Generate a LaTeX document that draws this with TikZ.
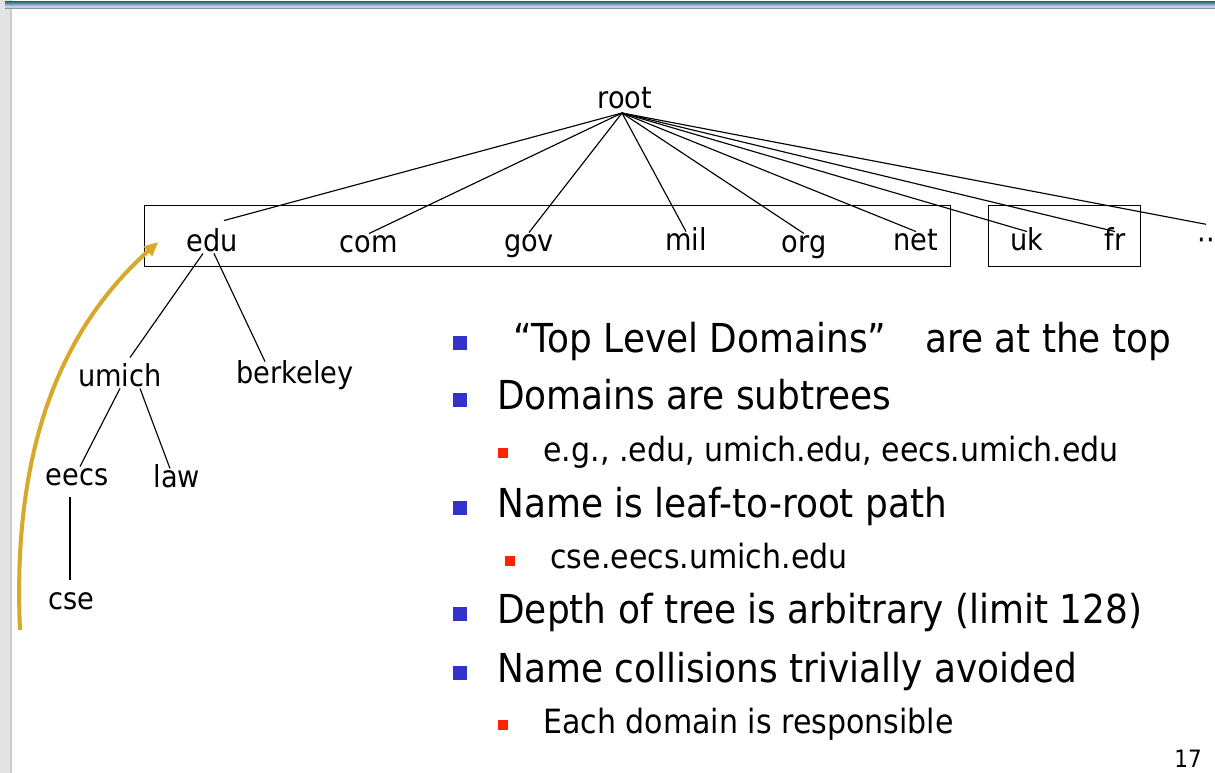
\documentclass[tikz,border=0pt]{standalone}
\usepackage{fontspec}
\setmainfont{DejaVu Sans}[FakeStretch=0.9]
\usetikzlibrary{arrows.meta,calc}
\definecolor{bulletblue}{RGB}{51,51,204}
\definecolor{bulletred}{RGB}{255,34,0}
\definecolor{pathgold}{RGB}{216,168,42}
\definecolor{barteal}{RGB}{60,120,118}
\definecolor{barlilac}{RGB}{200,200,245}
\tikzset{
  domlabel/.style={font=\fontsize{17.2}{19}\selectfont, inner sep=1pt,
    text height=0.75em, text depth=0.2em},
  treeline/.style={line width=0.65pt},
  mainitem/.style={anchor=west, inner sep=0pt, font=\fontsize{22.7}{26}\selectfont,
    text height=0.75em, text depth=0.22em},
  subitem/.style={anchor=west, inner sep=0pt, font=\fontsize{19}{22}\selectfont,
    text height=0.75em, text depth=0.22em},
  bigbullet/.style={fill=bulletblue, minimum size=7.9pt, inner sep=0pt},
  smallbullet/.style={fill=bulletred, minimum size=5.7pt, inner sep=0pt},
  patharrow/.style={-{Triangle[length=8pt,width=7pt]}, line width=2.3pt, pathgold}
}

\begin{document}
\begin{tikzpicture}[x=0.02cm, y=-0.02cm]
    \useasboundingbox (0,0) rectangle (1215,773);
    % slide frame
    \fill[gray!22] (0,0) rectangle (12,773);
    \fill[gray!40] (10,0) rectangle (12,773);
    \shade[top color=barteal, bottom color=barlilac] (5,2) rectangle (1215,6);
    \fill[barlilac] (5,6) rectangle (1215,8.5);
    \draw[barteal!70, line width=0.5pt] (5,8.5) -- (1215,8.5);

    % top level
    \node[domlabel] (root) at (625,104) {root};
    \coordinate (fork) at (622,113);
    \node[domlabel] (edu) at (212,247) {edu};
    \node[domlabel] (com) at (369,248) {com};
    \node[domlabel] (gov) at (529,247) {gov};
    \node[domlabel] (mil) at (686,246) {mil};
    \node[domlabel] (org) at (804,248) {org};
    \node[domlabel] (net) at (916,246) {net};
    \node[domlabel] (uk) at (1027,246) {uk};
    \node[domlabel] (fr) at (1115,246) {fr};
    \node[domlabel, anchor=west, inner sep=0pt] (more) at (1197,246) {··};
    \draw (144,205) rectangle (950,266);
    \draw (988,205) rectangle (1140,266);
    \draw[treeline] (fork) -- ([shift={(12,-16)}]edu.north);
    \foreach \tld in {com,gov,mil,org,net,uk,fr}
      \draw[treeline] (fork) -- ([shift={(0,-4)}]\tld.north);
    \draw[treeline] (fork) -- ([shift={(0,-13)}]more.north);

    % under edu
    \node[domlabel] (umich) at (120,382) {umich};
    \node[domlabel] (berkeley) at (295,379) {berkeley};
    \node[domlabel] (eecs) at (77,481) {eecs};
    \node[domlabel] (law) at (177,483) {law};
    \node[domlabel] (cse) at (71,605) {cse};
    \draw[treeline] ([shift={(-9,-4)}]edu.south) -- ([shift={(10,-14)}]umich.north);
    \draw[treeline] ([shift={(2,-4)}]edu.south) -- ([shift={(-30,-7)}]berkeley.north);
    \draw[treeline] ([shift={(0,-4)}]umich.south) -- ([shift={(3,-4)}]eecs.north);
    \draw[treeline] ([shift={(20,-4)}]umich.south) -- ([shift={(-7,-4)}]law.north);
    \draw[treeline] ([shift={(-7,6)}]eecs.south) -- ([shift={(-1,-15)}]cse.north);

    % leaf-to-root path
    \coordinate (leafend) at (20,630);
    \draw[patharrow] (leafend) .. controls (12,450) and (60,330) .. ([shift={(-26,-5)}]edu.west);

    % bullets
    \node[bigbullet] (b1) at (460,343) {};
    \node[mainitem] (t1) at (497,348) {\hspace{9pt}“Top Level Domains”\hspace{22pt}are at the top};
    \node[bigbullet] (b2) at (460,400) {};
    \node[mainitem] (t2) at (497,405) {Domains are subtrees};
    \node[smallbullet] (s1) at (503,453) {};
    \node[subitem] (u1) at (543,457) {e.g., .edu, umich.edu, eecs.umich.edu};
    \node[bigbullet] (b3) at (460,508) {};
    \node[mainitem] (t3) at (497,513) {Name is leaf-to-root path};
    \node[smallbullet] (s2) at (510,561) {};
    \node[subitem] (u2) at (550,564) {cse.eecs.umich.edu};
    \node[bigbullet] (b4) at (460,614) {};
    \node[mainitem] (t4) at (497,619) {Depth of tree is arbitrary (limit 128)};
    \node[bigbullet] (b5) at (460,673) {};
    \node[mainitem] (t5) at (497,678) {Name collisions trivially avoided};
    \node[smallbullet] (s3) at (503,725) {};
    \node[subitem] (u3) at (543,729) {Each domain is responsible};

    \node[font=\fontsize{13.6}{15}\selectfont, inner sep=0pt] (page) at (1188,759) {17};
\end{tikzpicture}
\end{document}
